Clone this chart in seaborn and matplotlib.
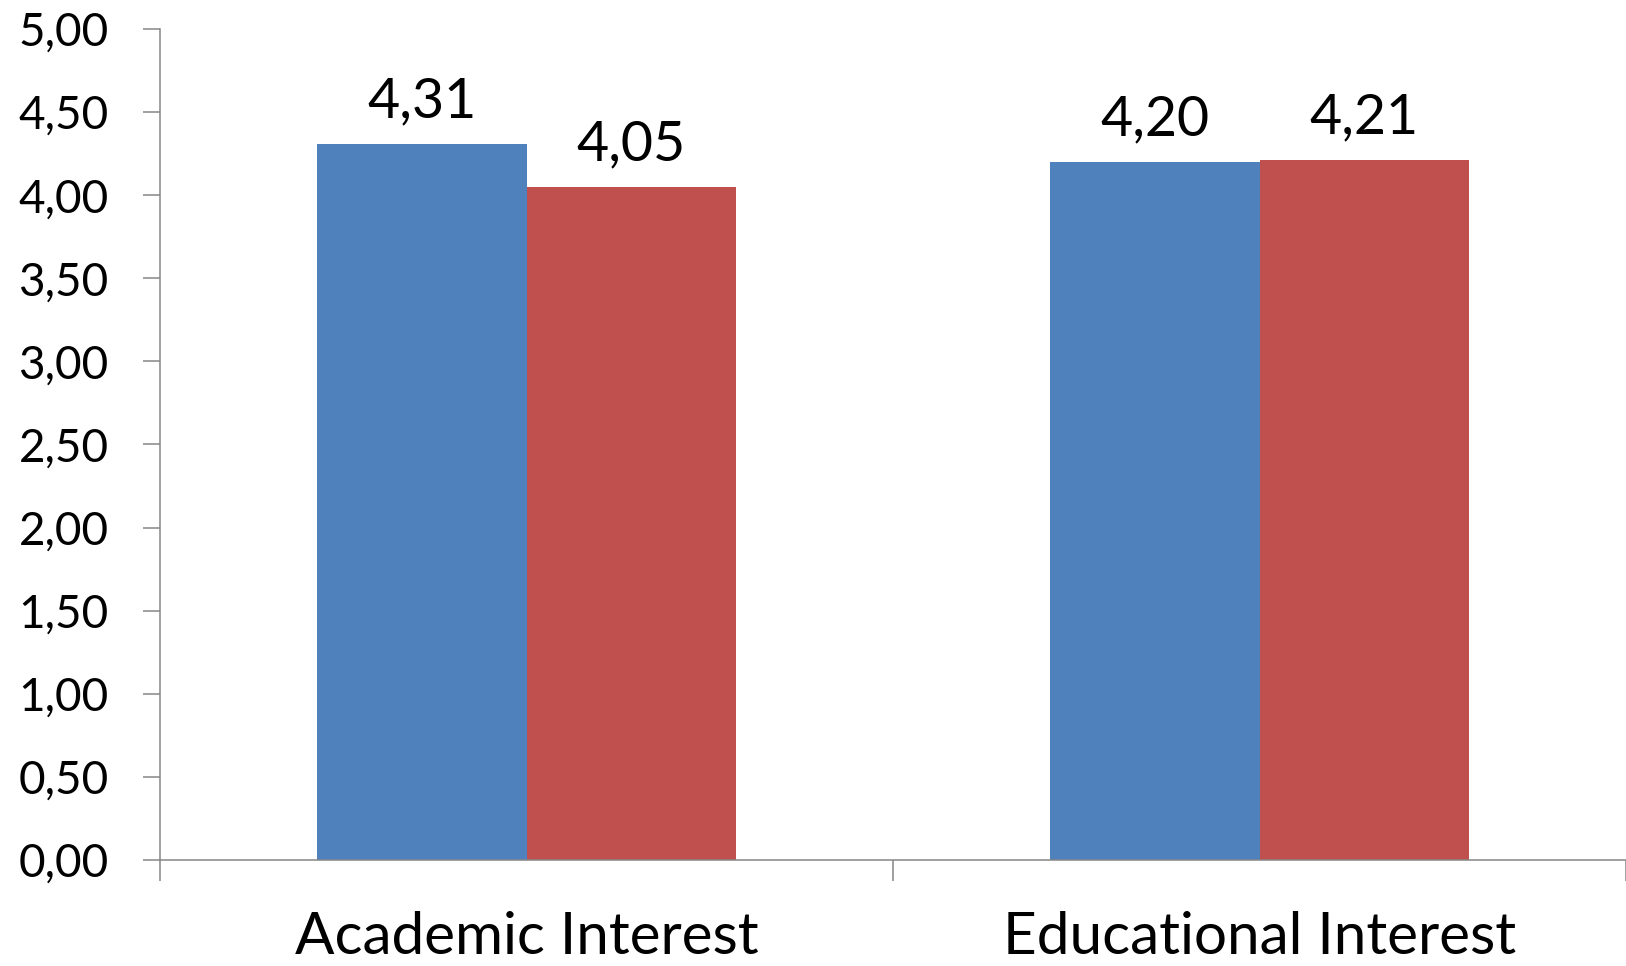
import matplotlib
matplotlib.use("Agg")
import matplotlib.pyplot as plt
import seaborn as sns
import pandas as pd
from matplotlib.ticker import FuncFormatter, FixedLocator

# ---- data ----
categories = ["Academic Interest", "Educational Interest"]
series_names = ["Series 1", "Series 2"]
series1_values = [4.31, 4.20]
series2_values = [4.05, 4.21]
y_ticks = [0.0, 0.5, 1.0, 1.5, 2.0, 2.5, 3.0, 3.5, 4.0, 4.5, 5.0]
colors = ["#4F81BD", "#C0504D"]

sns.set_theme(style="white")
plt.rcParams['font.family'] = ['Lato', 'DejaVu Sans']

df = pd.DataFrame({
    "category": categories * 2,
    "series": [series_names[0]] * len(categories) + [series_names[1]] * len(categories),
    "value": series1_values + series2_values,
})

def comma(v, pos=None):
    return f"{v:.2f}".replace(".", ",")

W, H = 1626, 966
fig = plt.figure(figsize=(W / 100, H / 100), dpi=100)
ax = fig.add_axes([160 / W, 106 / H, (W - 160) / W, 831 / H])

sns.barplot(data=df, x="category", y="value", hue="series", order=categories,
            hue_order=series_names, palette=colors, width=0.572, saturation=1,
            linewidth=0, legend=False, ax=ax)

ax.set_xlim(-0.5, 1.5)
ax.set_ylim(0, 5)
ax.set_xlabel("")
ax.set_ylabel("")

gray = "#868686"
for s in ["top", "right"]:
    ax.spines[s].set_visible(False)
for s in ["left", "bottom"]:
    ax.spines[s].set_color(gray)
    ax.spines[s].set_linewidth(1.1)

ax.set_yticks(y_ticks)
ax.yaxis.set_major_formatter(FuncFormatter(comma))
ax.tick_params(axis="y", which="major", left=True, direction="out", length=12,
               width=1.1, color=gray, pad=25, labelsize=33, labelcolor="black")

ax.xaxis.set_minor_locator(FixedLocator([-0.5, 0.5, 1.5]))
ax.tick_params(axis="x", which="major", bottom=True, length=0, pad=37,
               labelsize=42, labelcolor="black")
ax.tick_params(axis="x", which="minor", bottom=True, direction="out", length=15,
               width=1.1, color=gray)

for cont in ax.containers:
    ax.bar_label(cont, labels=[comma(b.get_height()) for b in cont],
                 padding=12, fontsize=40, color="black")

fig.savefig("out.png", dpi=100)
